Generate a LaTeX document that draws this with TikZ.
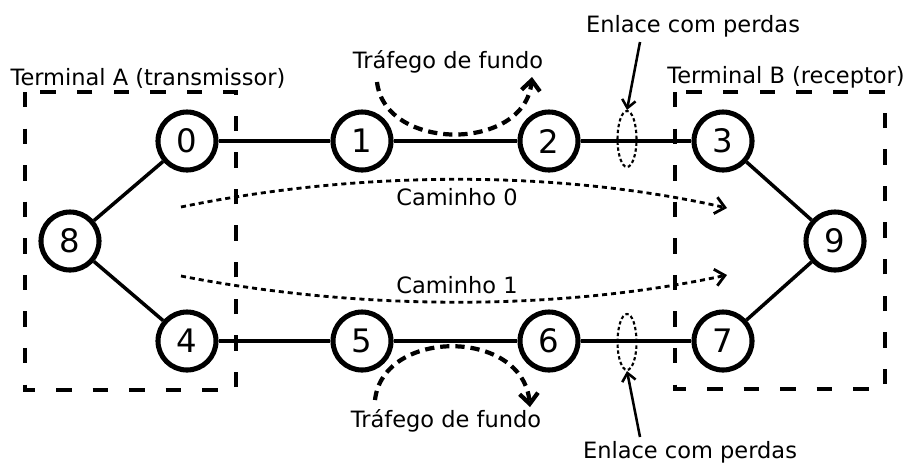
\documentclass[tikz,border=0pt]{standalone}
\usepackage{fontspec}
\setmainfont{DejaVu Sans}
\usetikzlibrary{arrows.meta,shapes.geometric}

\begin{document}
\begin{tikzpicture}[x=0.025cm,y=-0.025cm,
  router/.style={circle,draw,line width=3.6pt,minimum size=1.45cm,inner sep=0pt,
    font=\fontsize{23}{25}\selectfont},
  link/.style={line width=2.5pt},
  label/.style={font=\fontsize{16}{18}\selectfont,anchor=base,inner sep=0pt},
  terminal/.style={line width=2.6pt,dash pattern=on 11pt off 15pt},
  pathflow/.style={line width=2pt,dash pattern=on 3.6pt off 2.8pt,
    -{Straight Barb[length=2.4mm,width=4.2mm,line width=2pt]}},
  background/.style={line width=3pt,dash pattern=on 6.6pt off 4.2pt,
    -{Straight Barb[length=2.6mm,width=4.6mm,line width=3pt]}},
  lossy/.style={ellipse,draw,line width=1.5pt,dash pattern=on 2.4pt off 1.8pt,
    minimum width=0.475cm,minimum height=1.4cm,inner sep=0pt},
  pointer/.style={line width=1.8pt,-{Straight Barb[length=2mm,width=3.4mm,line width=1.8pt]}}]

\useasboundingbox (0,0) rectangle (905,463);

% terminal boundaries
\draw[terminal] (25,92) rectangle (236,390);
\draw[terminal] (675,92) rectangle (885,389);
\node[label] (termA) at (148,85) {Terminal A (transmissor)};
\node[label] (termB) at (786,83) {Terminal B (receptor)};

% routers
\node[router] (n8) at (70,241) {8};
\node[router] (n0) at (187,141) {0};
\node[router] (n4) at (187,341) {4};
\node[router] (n1) at (362,141) {1};
\node[router] (n5) at (362,341) {5};
\node[router] (n2) at (549,141) {2};
\node[router] (n6) at (549,341) {6};
\node[router] (n3) at (723,141) {3};
\node[router] (n7) at (723,341) {7};
\node[router] (n9) at (835,241) {9};

% links
\draw[link] (n8) -- (n0);
\draw[link] (n8) -- (n4);
\draw[link] (n0) -- (n1);
\draw[link] (n1) -- (n2);
\draw[link] (n2) -- (n3);
\draw[link] (n4) -- (n5);
\draw[link] (n5) -- (n6);
\draw[link] (n6) -- (n7);
\draw[link] (n3) -- (n9);
\draw[link] (n7) -- (n9);

% lossy links
\node[lossy] (lossTop) at (627,139) {};
\node[lossy] (lossBot) at (627,342) {};
\node[label] (enlTop) at (693,32) {Enlace com perdas};
\node[label] (enlBot) at (690,458) {Enlace com perdas};
\coordinate (enlTopFoot) at (640,42);
\coordinate (enlBotFoot) at (640,437);
\draw[pointer] (enlTopFoot) -- (lossTop.north);
\draw[pointer] (enlBotFoot) -- (lossBot.south);

% background traffic
\node[label] (bgTop) at (448,68) {Tráfego de fundo};
\node[label] (bgBot) at (446,427) {Tráfego de fundo};
\coordinate (bgTopIn) at (377,82);
\coordinate (bgTopOut) at (532,77);
\coordinate (bgBotIn) at (375,400);
\coordinate (bgBotOut) at (530,407);
\draw[background] (bgTopIn) .. controls (385,152) and (525,152) .. (bgTopOut);
\draw[background] (bgBotIn) .. controls (383,328) and (523,328) .. (bgBotOut);

% end-to-end paths
\coordinate (p0in) at (181,207);
\coordinate (p0out) at (727,208);
\coordinate (p1in) at (181,276);
\coordinate (p1out) at (727,275);
\draw[pathflow] (p0in) .. controls (360,170) and (560,170) .. (p0out);
\draw[pathflow] (p1in) .. controls (360,311) and (560,311) .. (p1out);
\node[label] (cam0) at (457,205) {Caminho 0};
\node[label] (cam1) at (457,293) {Caminho 1};

\end{tikzpicture}
\end{document}
